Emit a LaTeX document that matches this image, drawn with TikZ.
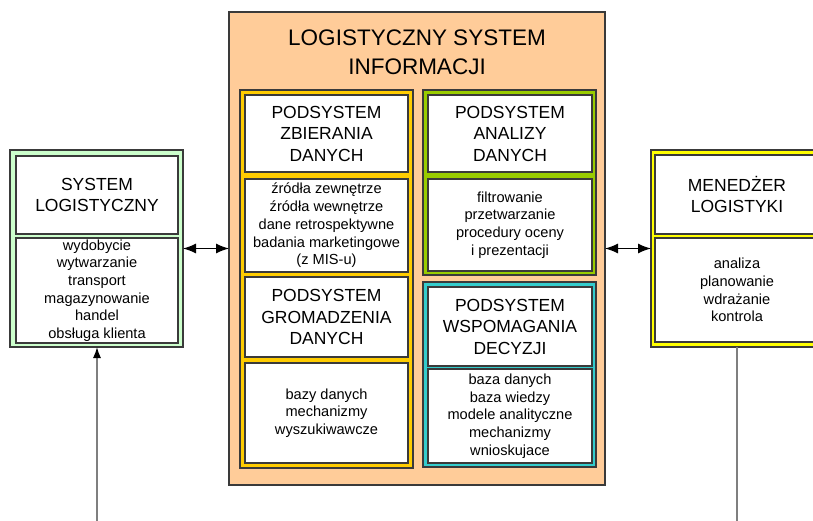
\documentclass[tikz,border=0pt]{standalone}
\usepackage{fontspec}
\setmainfont{Liberation Sans}
\usetikzlibrary{arrows.meta}

\definecolor{edge}{HTML}{3A3A3A}
\definecolor{wire}{HTML}{7F7F7F}
\definecolor{lsiorange}{HTML}{FFCC99}
\definecolor{zbyellow}{HTML}{FFCC00}
\definecolor{angreen}{HTML}{99CC00}
\definecolor{wdteal}{HTML}{33CCCC}
\definecolor{slgreen}{HTML}{CCFFCC}
\definecolor{mgyellow}{HTML}{FFFF00}

\tikzset{
  frame/.style={draw=edge, line width=1.1pt, inner sep=0pt, outer sep=0pt},
  cell/.style={draw=edge, fill=white, line width=1.1pt, inner sep=0pt, outer sep=0pt, align=center},
  head/.style={cell, font=\fontsize{17.5}{21.5}\selectfont},
  body/.style={cell, font=\fontsize{14.6}{17.7}\selectfont},
  link/.style={line width=1.2pt, black, {Latex[length=13pt,width=10pt]}-{Latex[length=13pt,width=10pt]}},
  feed/.style={line width=1.3pt, draw=wire},
}

\begin{document}
\begin{tikzpicture}[x=1pt, y=-1pt]
\useasboundingbox (0,0) rectangle (813,521);
\clip (0,0) rectangle (813,521);

% logistics system (left)
\node[frame, fill=slgreen, minimum width=173, minimum height=197] (lgframe) at (96.5,248.5) {};
\node[head, minimum width=162, minimum height=78] (sl) at (97,195) {SYSTEM\\LOGISTYCZNY};
\node[body, minimum width=162, minimum height=105] (slb) at (97,290.5)
  {wydobycie\\wytwarzanie\\transport\\magazynowanie\\handel\\obsługa klienta};

% logistics information system (centre)
\node[frame, fill=lsiorange, minimum width=376, minimum height=473] (lsi) at (417,248.5) {};
\node[align=center, inner sep=0pt, font=\fontsize{22.5}{29}\selectfont] (title) at (417,52.5)
  {LOGISTYCZNY SYSTEM\\INFORMACJI};

\node[frame, fill=zbyellow, minimum width=173, minimum height=378] (zbf) at (326.5,279) {};
\node[head, minimum width=163, minimum height=77] (zb1) at (326.5,133.5) {PODSYSTEM\\ZBIERANIA\\DANYCH};
\node[body, minimum width=163, minimum height=93] (zb2) at (326.5,225.5)
  {źródła zewnętrze\\źródła wewnętrze\\dane retrospektywne\\badania marketingowe\\(z MIS-u)};
\node[head, minimum width=163, minimum height=80] (gr1) at (326.5,317) {PODSYSTEM\\GROMADZENIA\\DANYCH};
\node[body, minimum width=163, minimum height=100] (gr2) at (326.5,413)
  {bazy danych\\mechanizmy\\wyszukiwawcze};

\node[frame, fill=angreen, minimum width=173, minimum height=185] (anf) at (509.5,182.5) {};
\node[head, minimum width=164, minimum height=77] (an1) at (510,133.5) {PODSYSTEM\\ANALIZY\\DANYCH};
\node[body, minimum width=164, minimum height=92] (an2) at (510,225)
  {filtrowanie\\przetwarzanie\\procedury oceny\\i prezentacji};

\node[frame, fill=wdteal, minimum width=173, minimum height=185] (wdf) at (509.5,374.5) {};
\node[head, minimum width=164, minimum height=79] (wd1) at (510,326.5) {PODSYSTEM\\WSPOMAGANIA\\DECYZJI};
\node[body, minimum width=164, minimum height=94] (wd2) at (510,416)
  {baza danych\\baza wiedzy\\modele analityczne\\mechanizmy\\wnioskujace};

% logistics manager (right)
\node[frame, fill=mgyellow, minimum width=172, minimum height=197] (mgf) at (737,248.5) {};
\node[head, minimum width=164, minimum height=79] (mg1) at (737,194.5) {MENEDŻER\\LOGISTYKI};
\node[body, minimum width=164, minimum height=104] (mg2) at (737,290)
  {analiza\\planowanie\\wdrażanie\\kontrola};

% connectors
\draw[link] (lgframe.east) -- (lsi.west);
\draw[link] (lsi.east) -- (mgf.west);

\coordinate (inL) at (97,521);
\coordinate (outR) at (737,521);
\draw[feed, -{Latex[length=11pt,width=8pt,color=black]}] (inL) -- (inL |- lgframe.south);
\draw[feed] (mgf.south) -- (outR);
\end{tikzpicture}
\end{document}
